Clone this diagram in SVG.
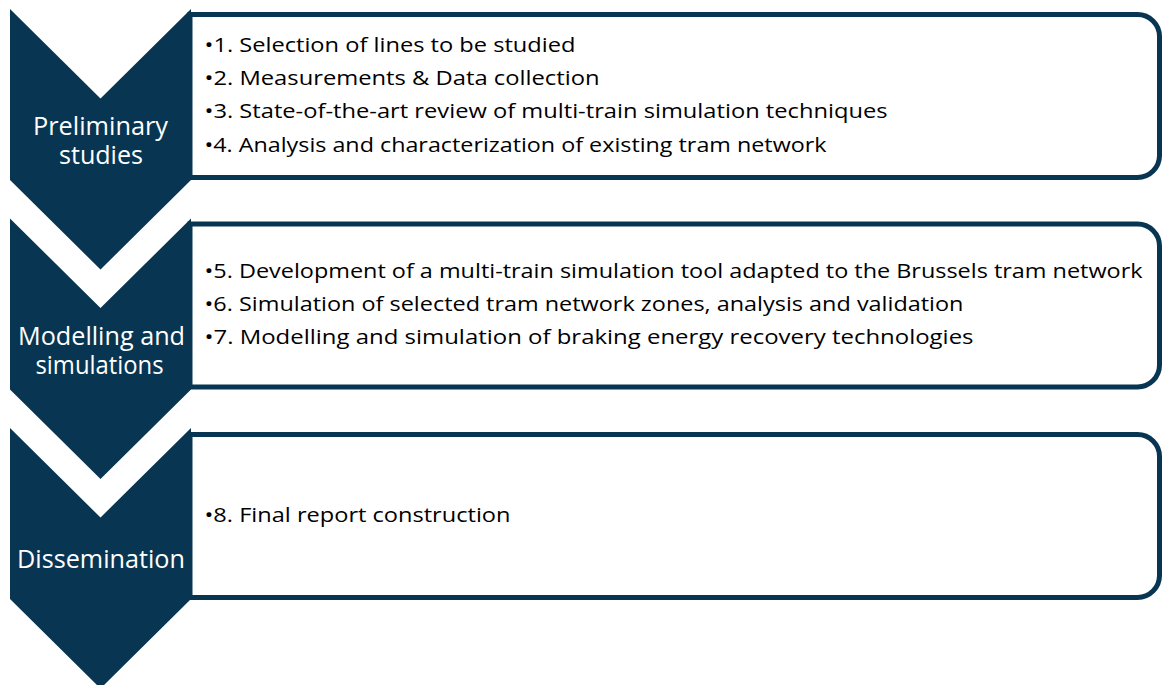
<svg xmlns="http://www.w3.org/2000/svg" width="1162" height="685" viewBox="0 0 1162 685">
  <style>
    .chev { fill: #083652; }
    .box { fill: #ffffff; stroke: #083652; stroke-width: 5; }
    .lbl { fill: #ffffff; font-family: "Open Sans", "Noto Sans", sans-serif; font-size: 26px; text-anchor: middle; }
    .item { fill: #000000; font-family: "Open Sans", "Noto Sans", sans-serif; font-size: 20px; }
  </style>
  <rect width="1162" height="685" fill="#ffffff"/>

  <!-- Stage 1 -->
  <g id="stage-preliminary">
    <path class="box" d="M190 14.5 H1137.5 A22 22 0 0 1 1159.5 36.5 V155.5 A22 22 0 0 1 1137.5 177.5 H190 Z"/>
    <path class="chev" d="M10 9 L100.5 98.5 L191 9 V180 L100.5 269.5 L10 180 Z"/>
    <text class="lbl" x="100.5" y="135" textLength="135" lengthAdjust="spacingAndGlyphs">Preliminary</text>
    <text class="lbl" x="101" y="164" textLength="84" lengthAdjust="spacingAndGlyphs">studies</text>
    <text class="item" x="204.5" y="51.7" textLength="371" lengthAdjust="spacingAndGlyphs">•1. Selection of lines to be studied</text>
    <text class="item" x="204.5" y="85" textLength="395" lengthAdjust="spacingAndGlyphs">•2. Measurements &amp; Data collection</text>
    <text class="item" x="204.5" y="118.3" textLength="683" lengthAdjust="spacingAndGlyphs">•3. State-of-the-art review of multi-train simulation techniques</text>
    <text class="item" x="204.5" y="151.7" textLength="622" lengthAdjust="spacingAndGlyphs">•4. Analysis and characterization of existing tram network</text>
  </g>

  <!-- Stage 2 -->
  <g id="stage-modelling">
    <path class="box" d="M190 224 H1137.5 A22 22 0 0 1 1159.5 246 V365 A22 22 0 0 1 1137.5 387 H190 Z"/>
    <path class="chev" d="M10 218.5 L100.5 308 L191 218.5 V389.5 L100.5 479 L10 389.5 Z"/>
    <text class="lbl" x="101.5" y="345" textLength="167" lengthAdjust="spacingAndGlyphs">Modelling and</text>
    <text class="lbl" x="99.5" y="373.5" textLength="128" lengthAdjust="spacingAndGlyphs">simulations</text>
    <text class="item" x="204.5" y="277.7" textLength="938" lengthAdjust="spacingAndGlyphs">•5. Development of a multi-train simulation tool adapted to the Brussels tram network</text>
    <text class="item" x="204.5" y="311" textLength="759" lengthAdjust="spacingAndGlyphs">•6. Simulation of selected tram network zones, analysis and validation</text>
    <text class="item" x="204.5" y="344.3" textLength="769" lengthAdjust="spacingAndGlyphs">•7. Modelling and simulation of braking energy recovery technologies</text>
  </g>

  <!-- Stage 3 -->
  <g id="stage-dissemination">
    <path class="box" d="M190 434.5 H1137.5 A22 22 0 0 1 1159.5 456.5 V575.5 A22 22 0 0 1 1137.5 597.5 H190 Z"/>
    <path class="chev" d="M10 428 L100.5 517.5 L191 428 V599 L100.5 688.5 L10 599 Z"/>
    <text class="lbl" x="101" y="568.3" textLength="168" lengthAdjust="spacingAndGlyphs">Dissemination</text>
    <text class="item" x="204.5" y="521.7" textLength="306" lengthAdjust="spacingAndGlyphs">•8. Final report construction</text>
  </g>

  <!-- no connectors: the chevrons nest into one another -->
  <g id="connectors"/>
</svg>
